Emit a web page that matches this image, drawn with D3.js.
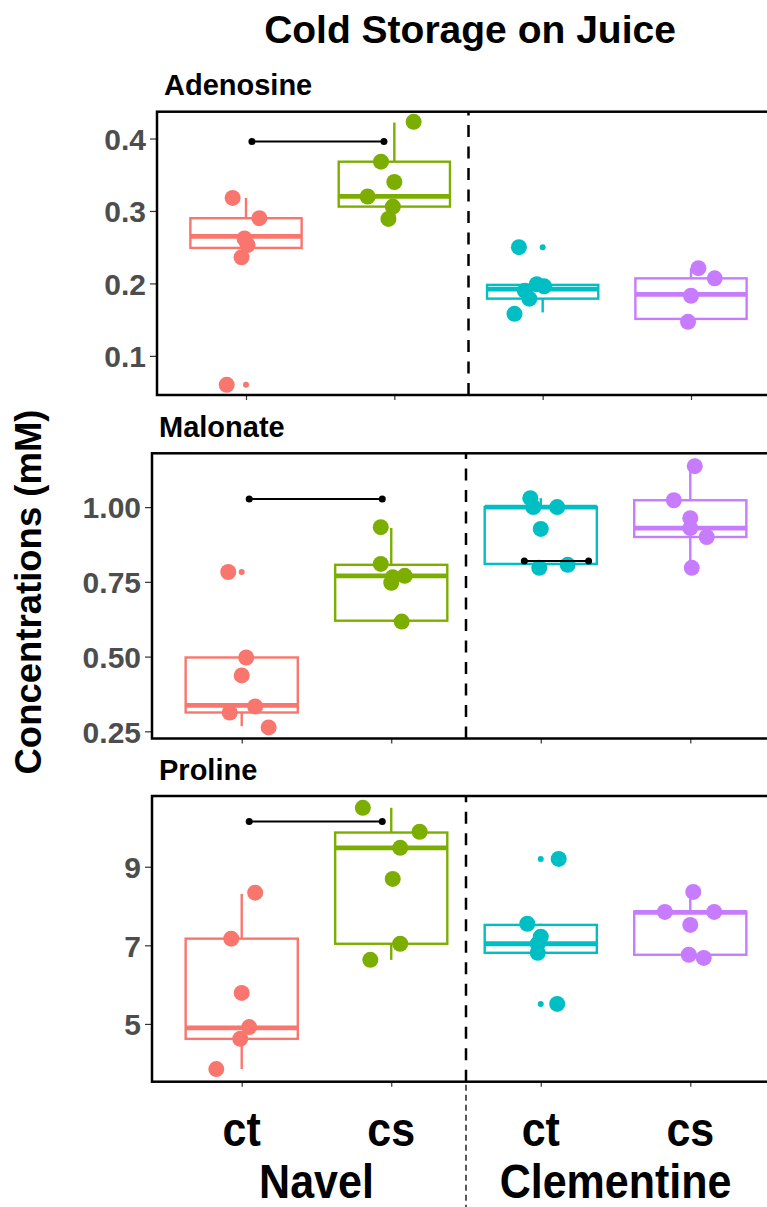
<!DOCTYPE html>
<html>
<head>
<meta charset="utf-8">
<script src="https://cdn.jsdelivr.net/npm/d3@7"></script>
<style>
  body { margin: 0; background: #fff; }
  text { font-family: 'Liberation Sans', Arial, sans-serif; font-weight: bold; }
</style>
</head>
<body>
<script>
const width = 767
const height = 1207

const groups = ['Navel ct', 'Navel cs', 'Clementine ct', 'Clementine cs']
const treatments = ['ct', 'cs', 'ct', 'cs']
const varieties = ['Navel', 'Clementine']
const colors = ['#F8766D', '#7CAE00', '#00BFC4', '#C77CFF']
const metabolites = ['Adenosine', 'Malonate', 'Proline']

// y axis ticks and limits
const adenosineTicks = [0.1, 0.2, 0.3, 0.4]
const malonateTicks = [0.25, 0.5, 0.75, 1.0]
const prolineTicks = [5, 7, 9]
const adenosineLimits = [0.046, 0.437]
const malonateLimits = [0.226, 1.18]
const prolineLimits = [3.53, 10.8]

// box stats per group: [lower whisker, q1, median, q3, upper whisker]
const adenosineBox = [
  [0.236, 0.249, 0.265, 0.290, 0.318],
  [0.290, 0.306, 0.320, 0.368, 0.422],
  [0.160, 0.179, 0.192, 0.198, 0.199],
  [0.147, 0.151, 0.185, 0.207, 0.221]
]
const malonateBox = [
  [0.267, 0.313, 0.337, 0.497, 0.497],
  [0.620, 0.620, 0.770, 0.807, 0.930],
  [0.797, 0.810, 1.000, 1.000, 1.030],
  [0.797, 0.900, 0.930, 1.023, 1.140]
]
const prolineBox = [
  [3.85, 4.62, 4.90, 7.17, 8.31],
  [6.63, 7.04, 9.48, 9.87, 10.5],
  [6.81, 6.81, 7.04, 7.52, 7.55],
  [6.68, 6.76, 7.84, 7.86, 8.36]
]

// boxplot outliers
const adenosineOutliers = [[0.060], [], [0.250], []]
const malonateOutliers = [[0.783], [], [], []]
const prolineOutliers = [[], [], [9.20, 5.51], []]

// jittered samples
const adenosinePoints = [
  [0.318, 0.290, 0.262, 0.253, 0.236, 0.060],
  [0.423, 0.368, 0.340, 0.320, 0.306, 0.289],
  [0.250, 0.158, 0.190, 0.199, 0.196, 0.179],
  [0.221, 0.207, 0.183, 0.147]
]
const malonatePoints = [
  [0.783, 0.497, 0.437, 0.333, 0.313, 0.263],
  [0.933, 0.810, 0.770, 0.765, 0.747, 0.617],
  [1.030, 1.000, 1.000, 0.927, 0.797, 0.807],
  [1.137, 1.023, 0.963, 0.930, 0.900, 0.797]
]
const prolinePoints = [
  [8.34, 7.17, 5.79, 4.92, 4.62, 3.85],
  [10.50, 9.89, 9.48, 8.69, 7.04, 6.63],
  [9.20, 7.55, 7.22, 7.04, 6.81, 5.51],
  [8.36, 7.85, 7.85, 7.52, 6.76, 6.68]
]
// horizontal jitter, in group steps
const adenosineJitter = [
  [-0.09, 0.09, -0.01, 0.01, -0.03, -0.13],
  [0.13, -0.09, 0, -0.18, -0.01, -0.04],
  [-0.16, -0.19, -0.12, -0.04, 0.01, -0.09],
  [0.05, 0.16, 0, -0.02]
]
const malonateJitter = [
  [-0.09, 0.03, 0, 0.09, -0.08, 0.18],
  [-0.07, -0.07, 0.09, 0.01, 0, 0.07],
  [-0.07, -0.05, 0.11, 0, -0.01, 0.18],
  [0.03, -0.11, 0, 0, 0.11, 0.01]
]
const prolineJitter = [
  [0.09, -0.07, 0, 0.05, -0.01, -0.17],
  [-0.19, 0.19, 0.06, 0.01, 0.06, -0.14],
  [0.12, -0.09, 0, -0.02, -0.02, 0.11],
  [0.02, -0.17, 0.16, 0, -0.01, 0.09]
]

// comparison bars: [from group index, to group index, y]
const adenosineBars = [[0.04, 0.93, 0.396]]
const malonateBars = [[0.05, 0.94, 1.027], [1.89, 2.32, 0.82]]
const prolineBars = [[0.05, 0.94, 10.15]]

const panels = [
  { ticks: adenosineTicks, limits: adenosineLimits, box: adenosineBox, out: adenosineOutliers, pts: adenosinePoints, jit: adenosineJitter, bars: adenosineBars, fmt: d3.format('.1f') },
  { ticks: malonateTicks, limits: malonateLimits, box: malonateBox, out: malonateOutliers, pts: malonatePoints, jit: malonateJitter, bars: malonateBars, fmt: d3.format('.2f') },
  { ticks: prolineTicks, limits: prolineLimits, box: prolineBox, out: prolineOutliers, pts: prolinePoints, jit: prolineJitter, bars: prolineBars, fmt: d3.format('d') }
]
const layout = [
  { left: 157, top: 111.7, bottom: 395 },
  { left: 152, top: 453.3, bottom: 738.5 },
  { left: 152, top: 796, bottom: 1081.7 }
]
const right = 780

const svg = d3.select('body').append('svg')
  .attr('width', width)
  .attr('height', height)

svg.append('text')
  .attr('x', 470)
  .attr('y', 43)
  .attr('text-anchor', 'middle')
  .style('font-size', '39px')
  .text('Cold Storage on Juice')

svg.append('text')
  .attr('transform', 'translate(41,592) rotate(-90)')
  .attr('text-anchor', 'middle')
  .style('font-size', '36.5px')
  .text('Concentrations (mM)')

let xLast
panels.forEach((p, k) => {
  const L = layout[k]
  const x = d3.scalePoint().domain(groups).range([L.left, right]).padding(0.6)
  const y = d3.scaleLinear().domain(p.limits).range([L.bottom, L.top])
  const step = x.step()
  const at = idx => x(groups[0]) + idx * step
  const g = svg.append('g')
  xLast = x

  const sep = (x(groups[1]) + x(groups[2])) / 2
  g.append('line')
    .attr('x1', sep).attr('x2', sep)
    .attr('y1', L.bottom).attr('y2', L.top)
    .attr('stroke', '#000')
    .attr('stroke-width', 2.5)
    .attr('stroke-dasharray', '12,9.5')

  const bw = step * 0.75
  p.box.forEach((b, i) => {
    const cx = x(groups[i])
    const c = colors[i]
    g.append('line')
      .attr('x1', cx).attr('x2', cx)
      .attr('y1', y(b[0])).attr('y2', y(b[1]))
      .attr('stroke', c).attr('stroke-width', 2.4)
    g.append('line')
      .attr('x1', cx).attr('x2', cx)
      .attr('y1', y(b[3])).attr('y2', y(b[4]))
      .attr('stroke', c).attr('stroke-width', 2.4)
    g.append('rect')
      .attr('x', cx - bw / 2)
      .attr('y', y(b[3]))
      .attr('width', bw)
      .attr('height', y(b[1]) - y(b[3]))
      .attr('fill', 'none')
      .attr('stroke', c)
      .attr('stroke-width', 2.4)
    g.append('line')
      .attr('x1', cx - bw / 2).attr('x2', cx + bw / 2)
      .attr('y1', y(b[2])).attr('y2', y(b[2]))
      .attr('stroke', c).attr('stroke-width', 4.8)

    g.selectAll(null).data(p.out[i]).enter().append('circle')
      .attr('cx', cx)
      .attr('cy', d => y(d))
      .attr('r', 3)
      .attr('fill', c)
  })

  p.pts.forEach((vals, i) => {
    g.selectAll(null).data(vals).enter().append('circle')
      .attr('cx', (d, j) => x(groups[i]) + p.jit[i][j] * step)
      .attr('cy', d => y(d))
      .attr('r', 8)
      .attr('fill', colors[i])
  })

  p.bars.forEach(b => {
    g.append('line')
      .attr('x1', at(b[0])).attr('x2', at(b[1]))
      .attr('y1', y(b[2])).attr('y2', y(b[2]))
      .attr('stroke', '#000').attr('stroke-width', 2)
    g.selectAll(null).data([b[0], b[1]]).enter().append('circle')
      .attr('cx', d => at(d))
      .attr('cy', y(b[2]))
      .attr('r', 3.5)
      .attr('fill', '#000')
  })

  const yAxis = g.append('g')
    .attr('transform', `translate(${L.left},0)`)
    .call(d3.axisLeft(y).tickValues(p.ticks).tickFormat(p.fmt).tickSize(7).tickPadding(4))
  yAxis.select('.domain').remove()
  yAxis.selectAll('line').attr('stroke', '#333').attr('stroke-width', 1.2)
  yAxis.selectAll('text')
    .attr('fill', '#4D4D4D')
    .attr('dy', '0.36em')
    .style('font-size', '30px')
    .style('font-family', "'Liberation Sans', Arial, sans-serif")

  const xAxis = g.append('g')
    .attr('transform', `translate(0,${L.bottom})`)
    .call(d3.axisBottom(x).tickSize(5).tickFormat(''))
  xAxis.select('.domain').remove()
  xAxis.selectAll('line').attr('stroke', '#333').attr('stroke-width', 1.2)

  g.append('rect')
    .attr('x', L.left)
    .attr('y', L.top)
    .attr('width', right - L.left)
    .attr('height', L.bottom - L.top)
    .attr('fill', 'none')
    .attr('stroke', '#000')
    .attr('stroke-width', 2.5)

  g.append('text')
    .attr('x', L.left + 7)
    .attr('y', L.top - 16.5)
    .style('font-size', '29px')
    .text(metabolites[k])
})

// bottom category labels
const last = layout[2]
svg.selectAll('.treat').data(treatments).enter().append('text')
  .attr('class', 'treat')
  .attr('transform', (d, i) => `translate(${xLast(groups[i])},1146) scale(1,1.1)`)
  .attr('text-anchor', 'middle')
  .style('font-size', '43px')
  .text(d => d)

svg.selectAll('.variety').data(varieties).enter().append('text')
  .attr('class', 'variety')
  .attr('transform', (d, i) => `translate(${(xLast(groups[2 * i]) + xLast(groups[2 * i + 1])) / 2},1198) scale(1,1.1)`)
  .attr('text-anchor', 'middle')
  .style('font-size', '43px')
  .text(d => d)

const sepX = (xLast(groups[1]) + xLast(groups[2])) / 2
svg.append('line')
  .attr('x1', sepX).attr('x2', sepX)
  .attr('y1', last.bottom + 3).attr('y2', height)
  .attr('stroke', '#000')
  .attr('stroke-width', 1.3)
  .attr('stroke-dasharray', '6,4')
</script>
</body>
</html>
